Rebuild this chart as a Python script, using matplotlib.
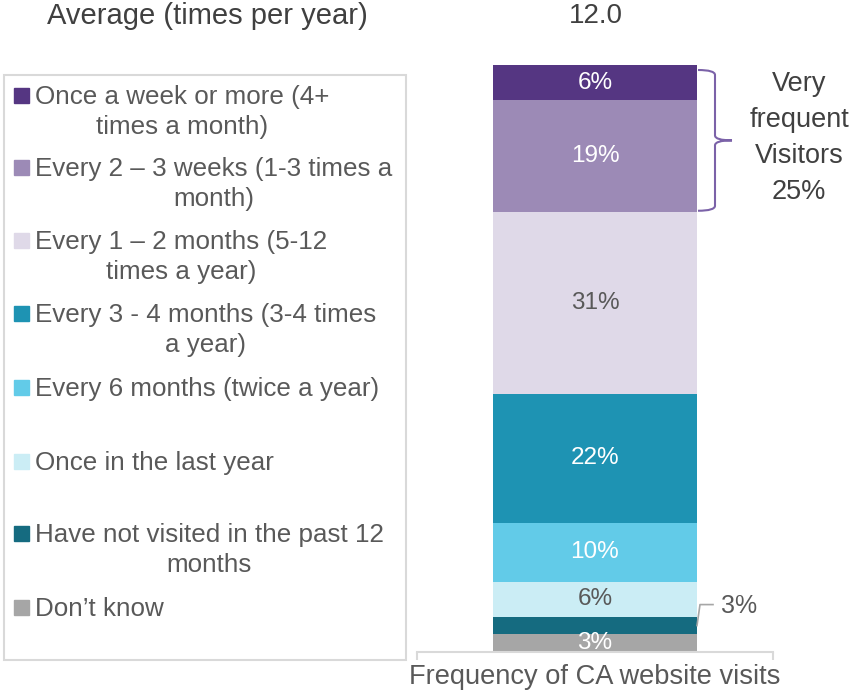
import matplotlib.pyplot as plt
from matplotlib.patches import Rectangle, PathPatch
from matplotlib.path import Path

plt.rcParams['font.family'] = ['Liberation Sans', 'DejaVu Sans']

# categories listed top of bar -> bottom of bar
CATEGORIES = [
    'Once a week or more (4+\ntimes a month)',
    'Every 2 \u2013 3 weeks (1-3 times a\nmonth)',
    'Every 1 \u2013 2 months (5-12\ntimes a year)',
    'Every 3 - 4 months (3-4 times\na year)',
    'Every 6 months (twice a year)',
    'Once in the last year',
    'Have not visited in the past 12\nmonths',
    'Don\u2019t know',
]
VALUES = [6, 19, 31, 22, 10, 6, 3, 3]
COLORS = ['#553682', '#9C8AB6', '#DFD9E8', '#1E93B3',
          '#62CBE8', '#CBEDF5', '#156B80', '#A6A6A6']
LABEL_COLORS = ['white', 'white', '#595959', 'white',
                'white', '#595959', None, 'white']
AVERAGE = 12.0
FREQUENT_SHARE = VALUES[0] + VALUES[1]
BAR_NAME = 'Frequency of CA website visits'

TXT = '#595959'
W, H = 859, 694
fig = plt.figure(figsize=(W / 100, H / 100), dpi=100)


def fx(x):
    return x / W


def fy(y):
    return 1 - y / H


# --- bar axis ---
ax = fig.add_axes([fx(417), fy(652), (773 - 417) / W, (652 - 65) / H])
BAR_W = 204 / 356
bottom = 0
for i in reversed(range(len(VALUES))):
    ax.bar(0, VALUES[i], width=BAR_W, bottom=bottom, color=COLORS[i], zorder=2)
    if LABEL_COLORS[i]:
        ax.text(0, bottom + VALUES[i] / 2, f'{VALUES[i]}%', ha='center',
                va='center', fontsize=17.5, color=LABEL_COLORS[i], clip_on=True, zorder=3)
    bottom += VALUES[i]
ax.set_xlim(-0.5, 0.5)
ax.set_ylim(0, 100)
for s in ['top', 'left', 'right']:
    ax.spines[s].set_visible(False)
ax.spines['bottom'].set_color('#D9D9D9')
ax.spines['bottom'].set_linewidth(1.5)
ax.set_yticks([])
ax.set_xticks([0])
ax.set_xticklabels([BAR_NAME], fontsize=19.6, color=TXT)
ax.tick_params(axis='x', which='major', length=0, pad=9)
ax.set_xticks([-0.5, 0.5], minor=True)
ax.tick_params(axis='x', which='minor', length=6, width=1.5, color='#D9D9D9')

px = 1 / 356          # data units per pixel in x
py = 100 / (652 - 65)  # data units per pixel in y
xe = BAR_W / 2

# callout for the small "have not visited" segment
mid = VALUES[7] + VALUES[6] / 2
ax.plot([xe, xe + 3 * px, xe + 16 * px], [mid, mid + 21 * py, mid + 21 * py],
        color='#A6A6A6', lw=1.2, clip_on=False)
ax.text(xe + 42 * px, mid + 20 * py, f'{VALUES[6]}%', ha='center', va='center',
        fontsize=18, color=TXT, clip_on=False)

# brace for very frequent visitors
yt = 100 - 5 * py
yb = 100 - FREQUENT_SHARE + 1 * py
ym = (yt + yb) / 2
xs, xv, xt = xe + 1 * px, xe + 18 * px, xe + 35 * px
r = 5 * py
verts = [(xs, yt), (xv, yt), (xv, yt - r),
         (xv, ym + r), (xv, ym), (xt, ym),
         (xv, ym), (xv, ym - r),
         (xv, yb + r), (xv, yb), (xs, yb)]
codes = [Path.MOVETO, Path.CURVE3, Path.CURVE3,
         Path.LINETO, Path.CURVE3, Path.CURVE3,
         Path.CURVE3, Path.CURVE3,
         Path.LINETO, Path.CURVE3, Path.CURVE3]
ax.add_patch(PathPatch(Path(verts, codes), fill=False, edgecolor='#7B62A8',
                       lw=1.5, clip_on=False))
fig.text(fx(799), fy(138), f'Very\nfrequent\nVisitors\n{FREQUENT_SHARE}%', ha='center',
         va='center', fontsize=19.5, color='#404040', linespacing=1.5)

# --- header ---
fig.text(fx(207), fy(16), 'Average (times per year)', ha='center', va='center',
         fontsize=21, color='#404040')
fig.text(fx(596), fy(16), f'{AVERAGE:.1f}', ha='center', va='center',
         fontsize=20, color='#404040')

# --- legend ---
fig.patches.append(Rectangle((fx(4), fy(660)), (406 - 4) / W, (660 - 75) / H,
                             transform=fig.transFigure, fill=False,
                             edgecolor='#D9D9D9', lw=1.5))
BASELINES = [105, 177, 250, 323, 397, 471, 543, 617]
for lab, col, yb_ in zip(CATEGORIES, COLORS, BASELINES):
    fig.patches.append(Rectangle((fx(14), fy(yb_ - 2)), 15 / W, 15 / H,
                                 transform=fig.transFigure, color=col))
    fig.text(fx(35), fy(yb_ - 20), lab, ha='left', va='top', multialignment='center',
             fontsize=18.7, color=TXT, linespacing=1.3)

fig.savefig('out.png', dpi=100)
